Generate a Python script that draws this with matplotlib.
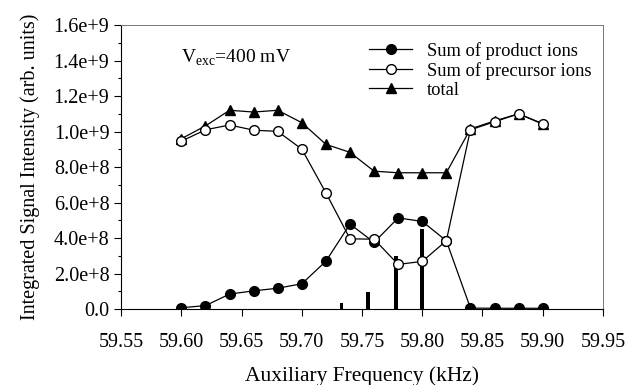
import numpy as np
import matplotlib.pyplot as plt
from matplotlib.ticker import MultipleLocator

plt.rcParams['font.family'] = ['Liberation Serif', 'DejaVu Serif']
plt.rcParams['mathtext.fontset'] = 'custom'
plt.rcParams['mathtext.rm'] = 'Liberation Serif'

# auxiliary frequency sweep (kHz)
freq = [59.60, 59.62, 59.64, 59.66, 59.68, 59.70, 59.72, 59.74,
        59.76, 59.78, 59.80, 59.82, 59.84, 59.86, 59.88, 59.90]

product = [0.008e9, 0.02e9, 0.085e9, 0.103e9, 0.118e9, 0.143e9, 0.27e9, 0.479e9,
           0.376e9, 0.514e9, 0.494e9, 0.385e9, 0.006e9, 0.005e9, 0.005e9, 0.005e9]
precursor = [0.946e9, 1.01e9, 1.037e9, 1.008e9, 1.001e9, 0.901e9, 0.655e9, 0.396e9,
             0.394e9, 0.252e9, 0.269e9, 0.385e9, 1.01e9, 1.055e9, 1.10e9, 1.042e9]
total = [0.96e9, 1.032e9, 1.12e9, 1.11e9, 1.12e9, 1.05e9, 0.928e9, 0.883e9,
         0.777e9, 0.768e9, 0.768e9, 0.768e9, 1.015e9, 1.06e9, 1.10e9, 1.045e9]

# stick spectrum underneath
stick_freq = [59.733, 59.755, 59.778, 59.80]
stick_int = [0.032e9, 0.097e9, 0.299e9, 0.449e9]

yticks = [0, 0.2e9, 0.4e9, 0.6e9, 0.8e9, 1.0e9, 1.2e9, 1.4e9, 1.6e9]
ylabels = ['0.0', '2.0e+8', '4.0e+8', '6.0e+8', '8.0e+8',
           '1.0e+9', '1.2e+9', '1.4e+9', '1.6e+9']
xticks = [59.55, 59.60, 59.65, 59.70, 59.75, 59.80, 59.85, 59.90, 59.95]

fig = plt.figure(figsize=(6.28, 3.85), dpi=100)
ax = fig.add_axes([0.193, 0.197, 0.767, 0.738])

ax.bar(stick_freq, stick_int, width=0.003, color='black', zorder=1)
ax.plot(freq, total, '-^', color='black', lw=0.9, ms=7, label='total', zorder=2)
ax.plot(freq, product, '-o', color='black', lw=0.9, ms=7,
        label='Sum of product ions', zorder=3)
ax.plot(freq, precursor, '-o', color='black', mfc='white', lw=0.9, ms=7,
        label='Sum of precursor ions', zorder=4)

ax.set_xlim(59.55, 59.95)
ax.set_ylim(0, 1.6e9)
ax.set_xticks(xticks)
ax.set_xticklabels(['%.2f' % v for v in xticks])
ax.set_yticks(yticks)
ax.set_yticklabels(ylabels)
ax.yaxis.set_minor_locator(MultipleLocator(0.1e9))
ax.tick_params(axis='both', labelsize=14.5, direction='out', length=5, width=0.8)
ax.tick_params(axis='y', which='minor', direction='out', length=2.5, width=0.8)
ax.tick_params(axis='x', pad=12)
for s in ['top', 'right']:
    ax.spines[s].set_color('#777777')
    ax.spines[s].set_linewidth(0.7)

ax.set_xlabel('Auxiliary Frequency (kHz)', fontsize=15.5)
ax.xaxis.set_label_coords(0.5, -0.235)
ax.xaxis.label.set_va('center')
ax.set_ylabel('Integrated Signal Intensity (arb. units)', fontsize=14.5, labelpad=10)

ax.text(0.125, 0.885, r'V$_{\mathrm{exc}}$=400 mV', transform=ax.transAxes,
        fontsize=14, va='center')

h, l = ax.get_legend_handles_labels()
ax.legend([h[1], h[2], h[0]], [l[1], l[2], l[0]], loc='upper right',
          bbox_to_anchor=(1.01, 1.0), frameon=False, fontsize=13.3,
          handlelength=2.3, handletextpad=0.8, labelspacing=0.12)

fig.savefig('out.png', dpi=100)
